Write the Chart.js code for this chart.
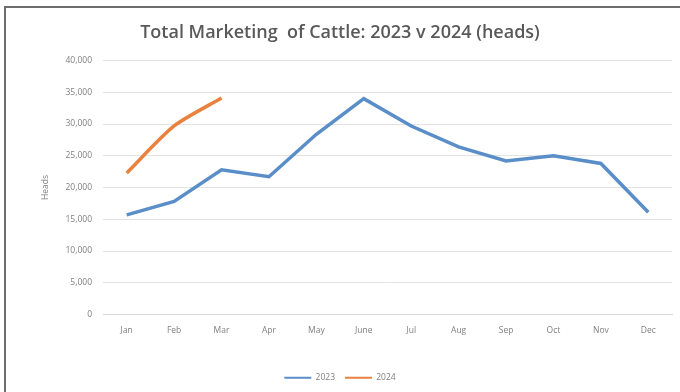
<!DOCTYPE html>
<html><head><meta charset="utf-8">
<script src="https://cdn.jsdelivr.net/npm/chart.js@4/dist/chart.umd.min.js"></script>
<style>html,body{margin:0;padding:0;background:#fff}#wrap{width:680px;height:392px;position:relative}</style>
</head><body><div id="wrap"><canvas id="c" width="680" height="392"></canvas></div>
<script>
const months = ["Jan","Feb","Mar","Apr","May","June","Jul","Aug","Sep","Oct","Nov","Dec"];
const values2023 = [15700,17800,22800,21700,28400,34000,29700,26400,24200,25000,23800,16100];
const values2024 = [22300,29700,34100,null,null,null,null,null,null,null,null,null];
const yTicks = [0,5000,10000,15000,20000,25000,30000,35000,40000];
const titleText = "Total Marketing  of Cattle: 2023 v 2024 (heads)";

const borderPlugin = {
  id:'frame',
  beforeDraw(chart){
    const ctx = chart.ctx;
    ctx.save();
    ctx.fillStyle='#fff';ctx.fillRect(0,0,680,392);
    ctx.strokeStyle='#6e6e6e';ctx.lineWidth=2;
    ctx.beginPath();ctx.moveTo(5,392);ctx.lineTo(5,7);ctx.lineTo(680,7);ctx.stroke();
    ctx.restore();
  }
};

new Chart(document.getElementById('c'), {
  type:'line',
  data:{labels:months,datasets:[
    {label:'2023',data:values2023,borderColor:'#5a8ec9',backgroundColor:'#5a8ec9',borderWidth:3.5,pointRadius:0,tension:0},
    {label:'2024',data:values2024,borderColor:'#e9823f',backgroundColor:'#e9823f',borderWidth:3.5,pointRadius:0,tension:0.25}
  ]},
  options:{
    responsive:false,animation:false,
    layout:{padding:{left:8,right:8,top:22,bottom:0}},
    plugins:{
      title:{display:true,text:titleText,color:'#595959',font:{family:'Open Sans',size:18,weight:'600'},padding:{top:0,bottom:17}},
      legend:{position:'bottom',onClick:null,
        labels:{boxWidth:27,boxHeight:2,color:'#808080',font:{family:'Open Sans',size:8.5},padding:10,
          generateLabels(chart){
            const items = Chart.defaults.plugins.legend.labels.generateLabels(chart);
            items.forEach(i=>{i.lineWidth=0;});
            return items;
          }}},
      tooltip:{enabled:false}
    },
    scales:{
      x:{offset:true,grid:{display:false},border:{color:'#d9d9d9',width:1},
        ticks:{color:'#808080',font:{family:'Open Sans',size:8.5},padding:3,maxRotation:0},
        afterFit(s){s.height=49;}},
      y:{min:0,max:40000,afterBuildTicks(s){s.ticks=yTicks.map(v=>({value:v}));},
        grid:{color:'#e3e3e3',drawTicks:false},border:{display:false},
        ticks:{color:'#808080',font:{family:'Open Sans',size:8.5},padding:11,callback:v=>v.toLocaleString('en-US')},
        title:{display:true,text:'Heads',color:'#808080',font:{family:'Open Sans',size:8.5},padding:{top:32,bottom:0}},
        afterFit(s){s.width=95;}
      }
    }
  },
  plugins:[borderPlugin]
});
</script></body></html>
